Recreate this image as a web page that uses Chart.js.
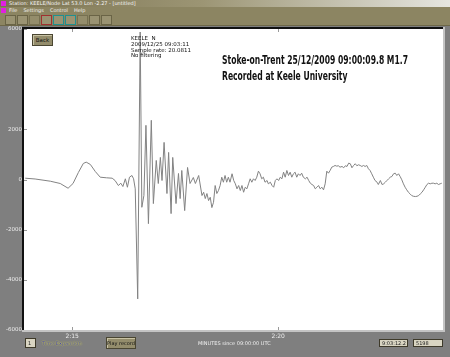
<!DOCTYPE html>
<html lang="en">
<head>
    <meta charset="UTF-8">
    <title>Stoke-on-Trent seismogram</title>
    <style>
        * { margin: 0; padding: 0; box-sizing: border-box; }
        body {
            width: 450px; height: 357px; overflow: hidden;
            background: #7f7f7f;
            font-family: "DejaVu Sans", sans-serif;
            position: relative;
        }
        .titlebar {
            position: absolute; left: 0; top: 0; width: 450px; height: 7px;
            background: linear-gradient(to right, #7a7250, #9c9574 45%, #e6e6e0);
            color: #f4f4f4; font-size: 5px; line-height: 7px; padding-left: 9px;
        }
        .menubar {
            position: absolute; left: 0; top: 7px; width: 450px; height: 7px;
            background: #8c8562; color: #f0f0f0; font-size: 5px; line-height: 7px; padding-left: 9px;
        }
        .menubar span { margin-right: 6px; }
        .toolbar {
            position: absolute; left: 0; top: 14px; width: 450px; height: 12px;
            background: #8c8562; border-bottom: 1px solid #6d6748;
        }
        .tool {
            position: absolute; top: 1px; width: 11px; height: 10px;
            background: #9a9372; border: 1px solid #6a6446;
        }
        .magenta { position: absolute; left: 1px; width: 5px; height: 5px; background: #e020e0; }
        #chart { position: absolute; left: 0; top: 0; }
        .btn {
            position: absolute; background: #948d6c; border: 1px solid #4a4632;
            box-shadow: inset 1px 1px 0 #c8c2a4;
            font-size: 5.5px; color: #111; text-align: center; white-space: nowrap;
        }
        .lbl { position: absolute; font-size: 5px; color: #f0f0f0; white-space: nowrap; }
        .box {
            position: absolute; height: 8px; background: #d9d5c2; border: 1px solid #3e3a2a;
            font-size: 5px; line-height: 6px; color: #222; padding-left: 2px; white-space: nowrap;
        }
    </style>
    <script src="https://cdn.jsdelivr.net/npm/chart.js"></script>
</head>
<body>
    <div class="titlebar"><div class="magenta" style="top:1px"></div>Station: KEELE/Node Lat 53.0 Lon -2.27 - [untitled]</div>
    <div class="menubar"><div class="magenta" style="top:1px"></div><span>File</span><span>Settings</span><span>Control</span><span>Help</span></div>
    <div class="toolbar">
        <div class="tool" style="left:5px"></div>
        <div class="tool" style="left:17px"></div>
        <div class="tool" style="left:29px; opacity:.6"></div>
        <div class="tool" style="left:41px; border-color:#a03030"></div>
        <div class="tool" style="left:53px; border-color:#209090"></div>
        <div class="tool" style="left:65px; border-color:#209090"></div>
        <div class="tool" style="left:77px; opacity:.6"></div>
        <div class="tool" style="left:89px"></div>
        <div class="tool" style="left:101px"></div>
    </div>

    <canvas id="chart" width="450" height="357"></canvas>

    <div class="btn" style="left:32px; top:34px; width:21px; height:12px; line-height:10px;">Back</div>

    <div class="box" style="left:25px; top:338px; width:11px; height:10px; line-height:8px;">1</div>
    <div class="lbl" style="left:42px; top:340px; color:#2a2ac8; text-shadow:0 0 1px #f4f430, 0 0 1px #f4f430;">Time Expansion</div>
    <div class="btn" style="left:106px; top:337px; width:30px; height:12px; line-height:10px; font-size:5px;">Play record</div>
    <div class="lbl" style="left:198px; top:340px;">MINUTES since 09:00:00 UTC</div>
    <div class="box" style="left:379px; top:339px; width:29px;">9:03:12.2</div>
    <div class="box" style="left:413px; top:339px; width:30px;">5198</div>

    <script>
        // Trace samples: time (s) and amplitude (counts)
        const times = [
            133.86, 134.10, 134.47, 134.71, 134.90, 135.02, 135.15, 135.27, 135.34, 135.44,
            135.56, 135.68, 135.83, 135.97, 136.04, 136.12, 136.18, 136.23, 136.29, 136.34,
            136.39, 136.45, 136.49, 136.53, 136.59, 136.65, 136.69, 136.74, 136.79, 136.85,
            136.92, 136.97, 137.04, 137.09, 137.14, 137.18, 137.23, 137.30, 137.34, 137.40,
            137.44, 137.52, 137.58, 137.62, 137.66, 137.73, 137.80, 137.86, 137.94, 137.99,
            138.07, 138.15, 138.19, 138.23, 138.27, 138.31, 138.35, 138.39, 138.43, 138.47,
            138.51, 138.55, 138.59, 138.63, 138.67, 138.71, 138.75, 138.79, 138.83, 138.88,
            138.92, 138.96, 139.00, 139.04, 139.08, 139.12, 139.16, 139.20, 139.24, 139.28,
            139.32, 139.36, 139.40, 139.44, 139.48, 139.52, 139.56, 139.60, 139.64, 139.68,
            139.73, 139.76, 139.81, 139.85, 139.89, 139.93, 139.97, 140.01, 140.05, 140.09,
            140.13, 140.17, 140.21, 140.25, 140.29, 140.33, 140.37, 140.41, 140.45, 140.49,
            140.53, 140.57, 140.61, 140.66, 140.70, 140.74, 140.78, 140.82, 140.86, 140.90,
            140.94, 140.98, 141.02, 141.06, 141.10, 141.14, 141.18, 141.22, 141.26, 141.30,
            141.34, 141.38, 141.42, 141.46, 141.50, 141.55, 141.59, 141.63, 141.67, 141.71,
            141.75, 141.79, 141.83, 141.87, 141.91, 141.95, 141.99, 142.03, 142.07, 142.11,
            142.15, 142.19, 142.23, 142.27, 142.31, 142.35, 142.40, 142.43, 142.48, 142.52,
            142.56, 142.60, 142.64, 142.68, 142.72, 142.76, 142.80, 142.84, 142.88, 142.92,
            142.96, 143.00, 143.04, 143.08, 143.12, 143.16, 143.20, 143.24, 143.28, 143.33,
            143.37, 143.41, 143.45, 143.49, 143.53, 143.57, 143.61, 143.65, 143.69, 143.73,
            143.77, 143.81, 143.85, 143.89, 143.93, 143.97
        ];
        const counts = [
            52, 20, -68, -160, -348, -160, 280, 640, 692, 600,
            320, 92, 68, 52, -40, -240, -148, -280, 28, -308,
            92, 160, 28, -372, -4760, 5880, -1108, -640, 2160, -1760,
            2360, -960, 760, -160, 880, -40, 1480, -560, 1080, -1360,
            880, -960, 240, -760, 360, -1240, 480, -160, 80, -160,
            160, -640, -508, -760, -560, -840, -708, -1120, -908, -240,
            -560, -440, -240, 92, -108, 160, -108, 92, -108, 228,
            -40, -172, -372, -240, -440, -240, -508, -308, -372, -172,
            28, -108, 28, -40, 92, 332, 228, 28, 92, -108,
            -40, -172, -108, -240, -308, -40, 28, -40, 92, 28,
            292, 92, 360, 160, 292, 92, 228, 292, 92, 228,
            160, 252, 92, 28, 92, -40, -148, -200, -240, -372,
            -308, -240, -372, -308, -412, -172, 332, 252, 360, 492,
            520, 560, 532, 548, 492, 520, 468, 548, 520, 652,
            628, 468, 560, 628, 548, 588, 560, 520, 560, 520,
            560, 428, 360, 228, 92, -40, -108, -200, -40, -200,
            -172, -108, -40, 28, 92, 120, 228, 252, 160, 228,
            120, -12, -172, -308, -412, -508, -572, -640, -668, -680,
            -668, -640, -572, -508, -412, -308, -200, -148, -172, -148,
            -148, -172, -148, -200, -172, -148
        ];
        const yTicks = [-6000, -4000, -2000, 0, 2000, 6000];
        const xTicks = [135, 140];   // seconds -> shown as m:ss
        const infoLines = ['KEELE  N', '2009/12/25 09:03:11', 'Sample rate: 20.0811', 'No filtering'];
        const titleLines = ['Stoke-on-Trent 25/12/2009 09:00:09.8 M1.7', 'Recorded at Keele University'];

        const fmtTime = v => Math.floor(v / 60) + ':' + String(Math.round(v % 60)).padStart(2, '0');

        // white plot area, sunken frame and the small inner tick marks
        const plotFrame = {
            id: 'plotFrame',
            beforeDraw(chart) {
                const { ctx, chartArea: a } = chart;
                ctx.save();
                ctx.fillStyle = '#ffffff';
                ctx.fillRect(a.left, a.top, a.right - a.left, a.bottom - a.top);
                ctx.restore();
            },
            afterDraw(chart) {
                const { ctx, chartArea: a, scales } = chart;
                ctx.save();
                ctx.lineWidth = 1;
                ctx.strokeStyle = '#9a9a9a';
                scales.y.ticks.forEach(t => {
                    const y = Math.round(scales.y.getPixelForValue(t.value)) + 0.5;
                    ctx.beginPath(); ctx.moveTo(a.left, y); ctx.lineTo(a.left + 3, y); ctx.stroke();
                });
                scales.x.ticks.forEach(t => {
                    const x = Math.round(scales.x.getPixelForValue(t.value)) + 0.5;
                    ctx.beginPath(); ctx.moveTo(x, a.top); ctx.lineTo(x, a.top + 3); ctx.stroke();
                    ctx.beginPath(); ctx.moveTo(x, a.bottom); ctx.lineTo(x, a.bottom - 3); ctx.stroke();
                });
                // frame
                ctx.strokeStyle = '#111';
                ctx.lineWidth = 2;
                ctx.beginPath(); ctx.moveTo(a.left - 1, a.bottom); ctx.lineTo(a.left - 1, a.top - 1); ctx.lineTo(a.right, a.top - 1); ctx.stroke();
                ctx.strokeStyle = '#c4c4c4';
                ctx.beginPath(); ctx.moveTo(a.right + 1, a.top - 2); ctx.lineTo(a.right + 1, a.bottom + 1); ctx.lineTo(a.left - 2, a.bottom + 1); ctx.stroke();
                ctx.restore();
            }
        };

        // station info and the event caption inside the plot
        const captions = {
            id: 'captions',
            afterDatasetsDraw(chart) {
                const { ctx, chartArea: a } = chart;
                ctx.save();
                ctx.fillStyle = '#111';
                ctx.textBaseline = 'alphabetic';
                ctx.font = '5.5px "DejaVu Sans"';
                infoLines.forEach((s, i) => ctx.fillText(s, a.left + 107, a.top + 11 + i * 5.8));

                ctx.font = 'bold 12.5px "Liberation Sans Narrow", "DejaVu Sans Condensed", sans-serif';
                const sx = 186 / ctx.measureText(titleLines[0]).width;
                titleLines.forEach((s, i) => {
                    ctx.save();
                    ctx.translate(a.left + 198, a.top + 35 + i * 16);
                    ctx.scale(sx, 1);
                    ctx.fillText(s, 0, 0);
                    ctx.restore();
                });
                ctx.restore();
            }
        };

        new Chart(document.getElementById('chart'), {
            type: 'line',
            data: {
                datasets: [{
                    data: times.map((t, i) => ({ x: t, y: counts[i] })),
                    borderColor: '#838383',
                    borderWidth: 1,
                    pointRadius: 0,
                    tension: 0
                }]
            },
            options: {
                responsive: false,
                animation: false,
                layout: { padding: { top: 29, right: 7, left: 0, bottom: 0 } },
                plugins: { legend: { display: false }, tooltip: { enabled: false } },
                scales: {
                    x: {
                        type: 'linear',
                        min: 133.83,
                        max: 144.0,
                        afterBuildTicks: s => { s.ticks = xTicks.map(v => ({ value: v })); },
                        afterFit: s => { s.height = 27; },
                        ticks: { callback: fmtTime, color: '#ececec', font: { size: 6, family: 'DejaVu Sans' }, padding: 3, maxRotation: 0 },
                        grid: { display: false, drawTicks: false },
                        border: { display: false }
                    },
                    y: {
                        min: -6000,
                        max: 6000,
                        afterBuildTicks: s => { s.ticks = yTicks.map(v => ({ value: v })); },
                        afterFit: s => { s.width = 24; },
                        ticks: { callback: v => String(v), color: '#ececec', font: { size: 5.5, family: 'DejaVu Sans' }, padding: 2 },
                        grid: { display: false, drawTicks: false },
                        border: { display: false }
                    }
                }
            },
            plugins: [plotFrame, captions]
        });
    </script>
</body>
</html>
